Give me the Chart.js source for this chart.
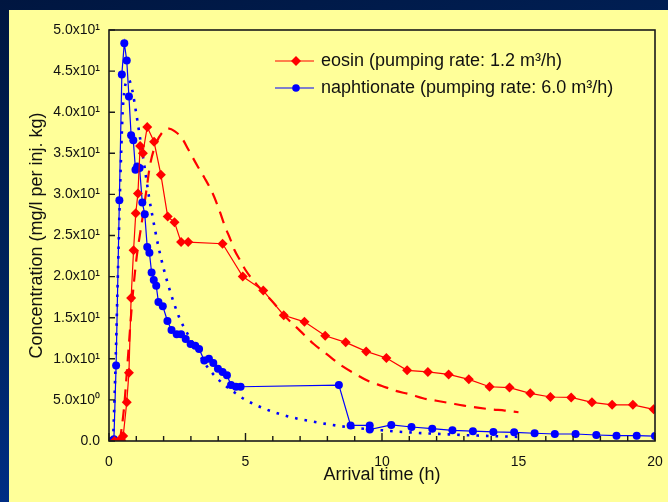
<!DOCTYPE html>
<html lang="en">
<head>
<meta charset="UTF-8">
<title>Arrival time curves</title>
<script src="https://cdn.jsdelivr.net/npm/chart.js"></script>
<style>
  html, body { margin: 0; padding: 0; width: 668px; height: 502px; overflow: hidden; }
  body { background: linear-gradient(165deg, #001640 0%, #00245f 45%, #0035a6 100%); }
  #panel { position: absolute; left: 9px; top: 10px; width: 659px; height: 492px; background: #ffff99; }
</style>
</head>
<body>
<div id="panel"><canvas id="curveChart"></canvas></div>

<script>
// measured eosin (pumping rate 1.2 m3/h)
const eosinTime = [0.2, 0.35, 0.45, 0.52, 0.65, 0.73, 0.81, 0.90, 0.98, 1.06, 1.14, 1.24, 1.40, 1.65, 1.90, 2.15, 2.40, 2.64, 2.90, 4.16, 4.90, 5.65, 6.40, 7.16, 7.92, 8.67, 9.42, 10.16, 10.92, 11.68, 12.44, 13.18, 13.94, 14.67, 15.43, 16.17, 16.93, 17.69, 18.43, 19.19, 19.95];
const eosinConc = [0, 0, 0.1, 0.6, 4.7, 8.3, 17.4, 23.2, 27.7, 30.1, 35.9, 35.0, 38.2, 36.4, 32.4, 27.3, 26.6, 24.2, 24.2, 24.0, 20.0, 18.3, 15.3, 14.5, 12.8, 12.0, 10.9, 10.1, 8.6, 8.4, 8.1, 7.5, 6.6, 6.5, 5.8, 5.35, 5.3, 4.7, 4.4, 4.4, 3.85];

// measured naphtionate (pumping rate 6.0 m3/h)
const naphTime = [0.05, 0.18, 0.26, 0.38, 0.47, 0.56, 0.65, 0.73, 0.81, 0.89, 0.97, 1.03, 1.12, 1.22, 1.31, 1.40, 1.48, 1.56, 1.64, 1.73, 1.81, 1.97, 2.14, 2.29, 2.48, 2.64, 2.81, 2.99, 3.16, 3.30, 3.49, 3.66, 3.82, 3.99, 4.16, 4.32, 4.47, 4.65, 4.82, 8.42, 8.85, 9.55, 9.55, 10.34, 11.08, 11.84, 12.58, 13.33, 14.08, 14.84, 15.59, 16.33, 17.09, 17.85, 18.59, 19.33, 20.0];
const naphConc = [0, 0.2, 9.2, 29.3, 44.6, 48.4, 46.3, 41.9, 37.2, 36.6, 33.0, 33.4, 33.2, 29.0, 27.6, 23.6, 22.9, 20.5, 19.6, 18.9, 16.9, 16.4, 14.6, 13.5, 13.0, 13.0, 12.4, 11.8, 11.6, 11.2, 9.8, 10.0, 9.5, 8.8, 8.4, 8.0, 6.8, 6.6, 6.6, 6.8, 1.9, 1.9, 1.4, 1.95, 1.7, 1.5, 1.3, 1.2, 1.1, 1.06, 0.94, 0.85, 0.85, 0.73, 0.65, 0.65, 0.6];

// fitted model curves
const eosinModelTime = [0.4, 0.55, 0.69, 0.85, 1.0, 1.22, 1.37, 1.5, 1.7, 1.97, 2.2, 2.4, 2.66, 2.9, 3.25, 3.5, 3.8, 4.05, 4.25, 4.45, 4.6, 4.8, 5.0, 5.5, 6.0, 6.5, 7.0, 7.5, 8.0, 8.5, 9.0, 9.5, 10.0, 10.5, 11.0, 11.5, 12.0, 12.5, 13.0, 13.5, 14.0, 14.5, 15.0];
const eosinModelConc = [0, 4, 10, 17, 22, 27, 30.5, 33.5, 36, 37.6, 38.0, 37.7, 36.9, 35.5, 33.4, 32.0, 30.1, 28.0, 26.1, 24.5, 23.2, 22.0, 20.8, 18.7, 16.9, 15.0, 13.4, 11.8, 10.5, 9.2, 8.2, 7.3, 6.7, 6.1, 5.7, 5.2, 4.9, 4.6, 4.3, 4.05, 3.85, 3.7, 3.5];

const naphModelTime = [0.15, 0.2, 0.25, 0.3, 0.35, 0.4, 0.45, 0.5, 0.57, 0.65, 0.72, 0.8, 0.87, 1.0, 1.15, 1.3, 1.47, 1.64, 1.8, 2.0, 2.25, 2.55, 2.75, 3.2, 3.5, 3.8, 4.2, 4.6, 5.0, 5.5, 6.0, 6.5, 7.0, 7.5, 8.0, 8.5, 9.0, 9.5, 10.0, 10.5, 11.0, 11.5, 12.0, 12.5, 13.0, 13.5, 14.0, 14.5, 15.0];
const naphModelConc = [0, 5, 10.5, 17, 23.5, 30, 35.5, 40, 42.8, 43.8, 44, 43.4, 42.4, 39.8, 36.6, 33.4, 29.6, 26.5, 23.8, 21.0, 18.1, 15.2, 13.8, 11.2, 9.5, 8.2, 6.9, 5.9, 5.0, 4.2, 3.55, 3.05, 2.65, 2.35, 2.05, 1.8, 1.6, 1.45, 1.3, 1.15, 1.05, 0.95, 0.88, 0.8, 0.72, 0.66, 0.6, 0.55, 0.5];

const yTickLabels = ['0.0', '5.0x10\u2070', '1.0x10\u00b9', '1.5x10\u00b9', '2.0x10\u00b9', '2.5x10\u00b9', '3.0x10\u00b9', '3.5x10\u00b9', '4.0x10\u00b9', '4.5x10\u00b9', '5.0x10\u00b9'];
const legendLabels = ['eosin (pumping rate: 1.2 m\u00b3/h)', 'naphtionate (pumping rate: 6.0 m\u00b3/h)'];

const RED = '#ff0000';
const BLUE = '#0000ff';

function toPoints(xs, ys) {
    return xs.map((x, i) => ({ x: x, y: ys[i] }));
}

Chart.defaults.font.family = '"Liberation Sans", Arial, sans-serif';
Chart.defaults.color = '#111';

// frame, inward ticks and the legend box inside the plot
const framePlugin = {
    id: 'frame',
    afterDatasetsDraw(chart) {
        const { ctx, chartArea: a, scales } = chart;
        ctx.save();
        ctx.strokeStyle = '#1a1a1a';
        ctx.lineWidth = 1.6;
        ctx.strokeRect(a.left, a.top, a.right - a.left, a.bottom - a.top);

        ctx.lineWidth = 1.4;
        ctx.beginPath();
        scales.x.ticks.forEach(t => {
            const px = scales.x.getPixelForValue(t.value);
            const len = t.value % 5 === 0 ? 8 : 5;
            ctx.moveTo(px, a.bottom);
            ctx.lineTo(px, a.bottom - len);
        });
        scales.y.ticks.forEach(t => {
            const py = scales.y.getPixelForValue(t.value);
            ctx.moveTo(a.left, py);
            ctx.lineTo(a.left + 6, py);
        });
        ctx.stroke();
        ctx.restore();
    },
    afterDraw(chart) {
        const { ctx, chartArea: a } = chart;
        const x1 = a.left + 166, x2 = a.left + 205, mx = a.left + 187;
        const rows = [a.top + 31, a.top + 58];
        ctx.save();
        ctx.font = '18px "Liberation Sans", Arial, sans-serif';
        ctx.textBaseline = 'middle';
        rows.forEach((y, i) => {
            const col = i === 0 ? RED : BLUE;
            ctx.strokeStyle = col;
            ctx.fillStyle = col;
            ctx.lineWidth = 1.2;
            ctx.beginPath();
            ctx.moveTo(x1, y);
            ctx.lineTo(x2, y);
            ctx.stroke();
            ctx.beginPath();
            if (i === 0) {
                ctx.moveTo(mx, y - 5);
                ctx.lineTo(mx + 5, y);
                ctx.lineTo(mx, y + 5);
                ctx.lineTo(mx - 5, y);
                ctx.closePath();
            } else {
                ctx.arc(mx, y, 3.8, 0, Math.PI * 2);
            }
            ctx.fill();
            ctx.fillStyle = '#111';
            ctx.fillText(legendLabels[i], x2 + 7, y);
        });
        ctx.restore();
    }
};

const ctx = document.getElementById('curveChart').getContext('2d');
new Chart(ctx, {
    type: 'scatter',
    data: {
        datasets: [
            {
                label: legendLabels[0],
                data: toPoints(eosinTime, eosinConc),
                showLine: true,
                borderColor: RED,
                backgroundColor: RED,
                borderWidth: 1.2,
                pointStyle: 'rectRot',
                pointRadius: 5,
                pointBorderWidth: 0
            },
            {
                label: legendLabels[1],
                data: toPoints(naphTime, naphConc),
                showLine: true,
                borderColor: BLUE,
                backgroundColor: BLUE,
                borderWidth: 1.2,
                pointStyle: 'circle',
                pointRadius: 4,
                pointBorderWidth: 0
            },
            {
                label: 'eosin model',
                data: toPoints(eosinModelTime, eosinModelConc),
                showLine: true,
                borderColor: RED,
                borderWidth: 2.2,
                borderDash: [12, 8],
                pointRadius: 0,
                cubicInterpolationMode: 'monotone'
            },
            {
                label: 'naphtionate model',
                data: toPoints(naphModelTime, naphModelConc),
                showLine: true,
                borderColor: BLUE,
                borderWidth: 2.6,
                borderDash: [2.6, 7],
                pointRadius: 0,
                cubicInterpolationMode: 'monotone'
            }
        ]
    },
    options: {
        responsive: true,
        maintainAspectRatio: false,
        animation: false,
        layout: { padding: { top: 20, right: 13, left: 0, bottom: 0 } },
        plugins: {
            legend: { display: false },
            tooltip: { enabled: false }
        },
        scales: {
            x: {
                type: 'linear',
                min: 0,
                max: 20,
                afterFit(scale) { scale.height = 61; },
                // tick marks are drawn inward by the plugin; tickLength only offsets the labels
                grid: { display: false, drawTicks: true, tickLength: 10 },
                border: { display: false },
                ticks: {
                    stepSize: 1,
                    autoSkip: false,
                    maxRotation: 0,
                    padding: 3,
                    font: { size: 14 },
                    callback: v => (v % 5 === 0 ? v : '')
                },
                title: {
                    display: true,
                    text: 'Arrival time (h)',
                    font: { size: 18 },
                    padding: { top: 0, bottom: 16 }
                }
            },
            y: {
                min: 0,
                max: 50,
                afterFit(scale) { scale.width = 100; },
                grid: { display: false, drawTicks: false },
                border: { display: false },
                ticks: {
                    stepSize: 5,
                    padding: 9,
                    font: { size: 14 },
                    callback: v => yTickLabels[Math.round(v / 5)]
                },
                title: {
                    display: true,
                    text: 'Concentration (mg/l per inj. kg)',
                    font: { size: 18 },
                    padding: { top: 17, bottom: 0 }
                }
            }
        }
    },
    plugins: [framePlugin]
});
</script>
</body>
</html>
